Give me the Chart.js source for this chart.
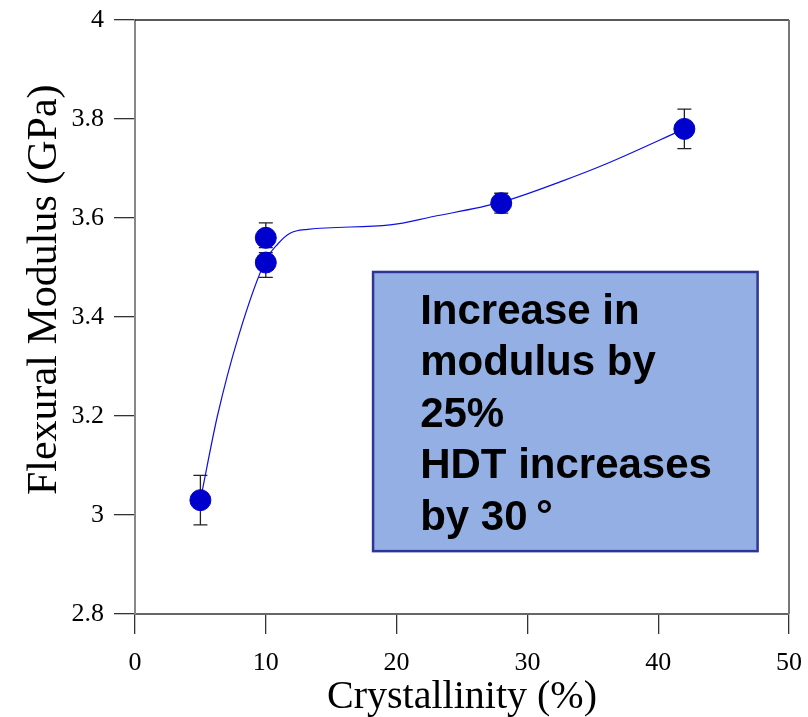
<!DOCTYPE html>
<html>
<head>
<meta charset="utf-8">
<script src="https://cdn.jsdelivr.net/npm/chart.js@4/dist/chart.umd.min.js"></script>
<style>
  html, body { margin: 0; padding: 0; background: #fff; }
  #wrap { width: 808px; height: 717px; }
</style>
</head>
<body>
<div id="wrap"><canvas id="modulusChart" width="808" height="717"></canvas></div>
<script>
// measured points
const crystallinity = [5, 10, 10, 28, 42];
const modulus = [3.03, 3.56, 3.51, 3.63, 3.78];
const errLow = [2.98, 3.54, 3.48, 3.61, 3.74];
const errHigh = [3.08, 3.59, 3.53, 3.65, 3.82];

// smooth fit line
const fitX = [5, 6.3, 7.9, 10, 10.9, 11.85, 13.2, 19.5, 22.8, 28, 32.7, 36, 42];
const fitY = [3.03, 3.2, 3.36, 3.515, 3.547, 3.569, 3.577, 3.586, 3.603, 3.632, 3.675, 3.709, 3.78];

const xTicks = [0, 10, 20, 30, 40, 50];
const yTicks = [2.8, 3, 3.2, 3.4, 3.6, 3.8, 4];

const noteLines = ["Increase in", "modulus by", "25%", "HDT increases", "by 30\u2009°"];
const yTitle = "Flexural Modulus (GPa)";

const serif = "'Liberation Serif', 'Times New Roman', serif";

// box round the plot, note box, error bars
const framePlugin = {
  id: "frame",
  beforeDatasetsDraw(chart) {
    const ctx = chart.ctx;
    const a = chart.chartArea;
    const x = chart.scales.x, y = chart.scales.y;
    ctx.save();
    ctx.strokeStyle = "#222";
    ctx.lineWidth = 1.5;
    ctx.beginPath();
    ctx.moveTo(a.left, a.top);
    ctx.lineTo(a.right, a.top);
    ctx.stroke();
    ctx.strokeStyle = "#777";
    ctx.lineWidth = 2;
    ctx.beginPath();
    ctx.moveTo(a.right, a.top);
    ctx.lineTo(a.right, a.bottom);
    ctx.stroke();

    // annotation box
    const bx1 = x.getPixelForValue(18.2), bx2 = x.getPixelForValue(47.6);
    const by1 = y.getPixelForValue(3.491), by2 = y.getPixelForValue(2.927);
    ctx.fillStyle = "#94AFE3";
    ctx.fillRect(bx1, by1, bx2 - bx1, by2 - by1);
    ctx.strokeStyle = "#2E3597";
    ctx.lineWidth = 2.5;
    ctx.strokeRect(bx1, by1, bx2 - bx1, by2 - by1);
    ctx.fillStyle = "#000";
    ctx.font = "bold 42px 'Liberation Sans', Arial, sans-serif";
    ctx.textBaseline = "alphabetic";
    ctx.textAlign = "left";
    const tx = x.getPixelForValue(21.8);
    noteLines.forEach((t, i) => {
      ctx.fillText(t, tx, by1 + 52 + i * 51.5);
    });

    // error bars
    ctx.strokeStyle = "#222";
    ctx.lineWidth = 1.3;
    crystallinity.forEach((cx, i) => {
      const px = x.getPixelForValue(cx);
      const lo = y.getPixelForValue(errLow[i]);
      const hi = y.getPixelForValue(errHigh[i]);
      ctx.beginPath();
      ctx.moveTo(px, lo); ctx.lineTo(px, hi);
      ctx.moveTo(px - 7, lo); ctx.lineTo(px + 7, lo);
      ctx.moveTo(px - 7, hi); ctx.lineTo(px + 7, hi);
      ctx.stroke();
    });

    // y axis title (sits a bit above the plot centre in the original)
    ctx.translate(45, y.getPixelForValue(3.455));
    ctx.rotate(-Math.PI / 2);
    ctx.font = "42px " + serif;
    ctx.textAlign = "center";
    ctx.textBaseline = "middle";
    ctx.fillText(yTitle, 0, 0);
    ctx.restore();
  }
};

new Chart(document.getElementById("modulusChart"), {
  type: "scatter",
  data: {
    datasets: [
      {
        label: "fit",
        type: "line",
        data: fitX.map((v, i) => ({ x: v, y: fitY[i] })),
        borderColor: "#1010E0",
        borderWidth: 1.2,
        pointRadius: 0,
        cubicInterpolationMode: "monotone",
        fill: false,
        order: 2,
      },
      {
        label: "Flexural Modulus",
        data: crystallinity.map((v, i) => ({ x: v, y: modulus[i] })),
        backgroundColor: "#0000CC",
        borderColor: "#0000CC",
        pointRadius: 10.5,
        order: 1,
      },
    ],
  },
  options: {
    responsive: false,
    animation: false,
    layout: { padding: { top: 20, right: 19, left: 0, bottom: 0 } },
    plugins: { legend: { display: false }, tooltip: { enabled: false } },
    scales: {
      x: {
        type: "linear",
        min: 0,
        max: 50,
        afterBuildTicks: (s) => { s.ticks = xTicks.map((v) => ({ value: v })); },
        afterFit: (s) => { s.height = 103; s.paddingLeft = 0; s.paddingRight = 0; },
        grid: { drawOnChartArea: false, drawTicks: true, tickLength: 20, color: "#333", lineWidth: 1.3 },
        border: { display: true, color: "#666", width: 2 },
        ticks: { color: "#000", padding: 14, font: { family: serif, size: 26 } },
        title: {
          display: true,
          text: "Crystallinity (%)",
          color: "#000",
          padding: 0,
          font: { family: serif, size: 40, lineHeight: 1 },
        },
      },
      y: {
        type: "linear",
        min: 2.8,
        max: 4,
        afterBuildTicks: (s) => { s.ticks = yTicks.map((v) => ({ value: v })); },
        afterFit: (s) => { s.width = 135; s.paddingTop = 0; s.paddingBottom = 0; },
        grid: { drawOnChartArea: false, drawTicks: true, tickLength: 21, color: "#333", lineWidth: 1.3 },
        border: { display: true, color: "#888", width: 2 },
        ticks: {
          color: "#000",
          padding: 10,
          font: { family: serif, size: 26 },
          callback: (v) => String(Math.round(v * 10) / 10),
        },
        title: { display: false },
      },
    },
  },
  plugins: [framePlugin],
});
</script>
</body>
</html>
